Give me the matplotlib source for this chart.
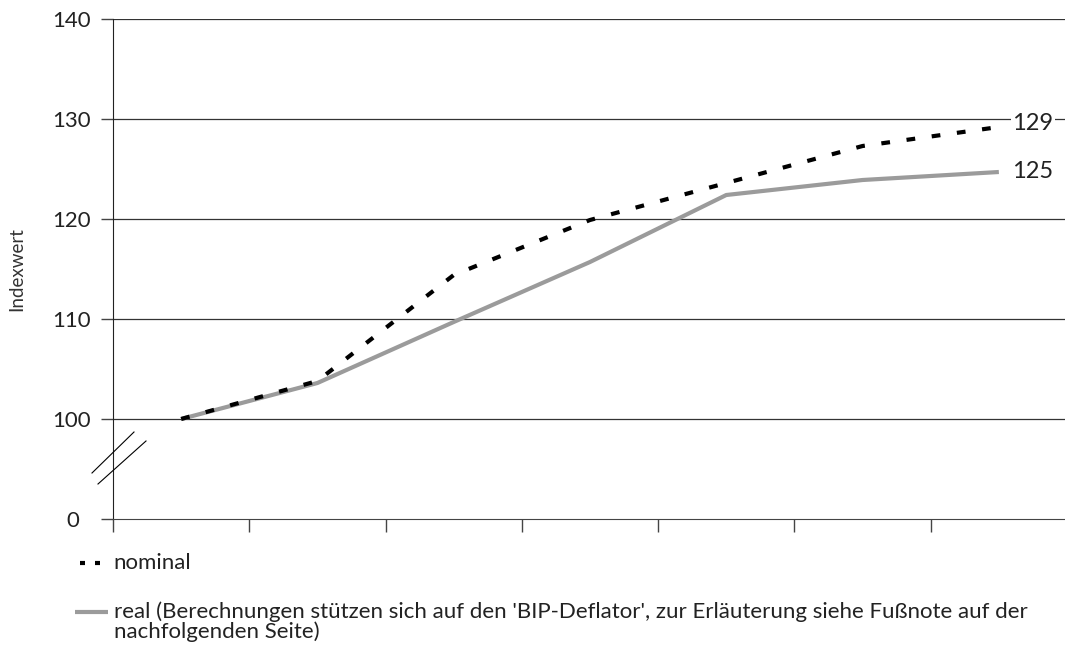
import matplotlib.pyplot as plt
import matplotlib.transforms as mtransforms
from matplotlib.lines import Line2D

plt.rcParams['font.family'] = ['Lato', 'DejaVu Sans']

# index values (first category = 100)
categories = ['1', '2', '3', '4', '5', '6', '7']
nominal = [100, 103.8, 114.4, 119.9, 123.6, 127.3, 129.2]
real = [100, 103.6, 109.7, 115.7, 122.4, 123.9, 124.7]
end_labels = ['129', '125']
y_ticks = [90, 100, 110, 120, 130, 140]
y_ticklabels = ['0', '100', '110', '120', '130', '140']

fig = plt.figure(figsize=(10.65, 6.54), dpi=100)
ax = fig.add_axes([113 / 1065, 135 / 654, 954 / 1065, 500 / 654])

x = list(range(len(categories)))
ax.plot(x, real, color='#9b9b9b', lw=3.0, solid_capstyle='butt', zorder=3)
ax.plot(x, nominal, color='black', lw=3.0, ls=(0, (2.1, 4.0)),
        dash_capstyle='butt', zorder=4)

ax.set_xlim(-0.5, len(categories) - 0.5)
ax.set_ylim(90, 140)
ax.set_yticks(y_ticks)
ax.set_yticklabels(y_ticklabels, fontsize=16, color='#222222')
ax.set_xticks([i - 0.5 for i in range(len(categories) + 1)])
ax.set_xticklabels([])
ax.tick_params(axis='both', length=9, width=1, color='#444444')
ax.tick_params(axis='y', pad=7)

# the "0" of the broken axis sits a little further left
zero_label = ax.yaxis.get_major_ticks()[0].label1
zero_label.set_transform(zero_label.get_transform() +
                         mtransforms.ScaledTranslation(-0.12, 0, fig.dpi_scale_trans))

for v in y_ticks[1:]:
    ax.axhline(v, color='#333333', lw=0.9, zorder=1)

for side in ['top', 'right']:
    ax.spines[side].set_visible(False)
ax.spines['left'].set_color('#222222')
ax.spines['bottom'].set_color('#444444')
ax.spines['left'].set_bounds(90, 140)

ax.set_ylabel('Indexwert', fontsize=13.5, color='#333333')
ax.yaxis.set_label_coords(-0.092, 0.5)

# values at the end of each line
ax.text(x[-1] + 0.1, nominal[-1] + 0.3, end_labels[0], fontsize=17,
        va='center', ha='left', color='#222222',
        bbox=dict(facecolor='white', edgecolor='none', pad=1), zorder=5)
ax.text(x[-1] + 0.1, real[-1], end_labels[1], fontsize=17, va='center',
        ha='left', color='#222222', zorder=5)

# axis break marks
for (x0, y0, x1, y1) in [(92, 473, 134, 432), (98, 484, 146, 441)]:
    fig.add_artist(Line2D([x0 / 1065, x1 / 1065], [1 - y0 / 654, 1 - y1 / 654],
                          color='black', lw=0.8))

# legend below the plot
fig.add_artist(Line2D([80 / 1065, 100 / 1065], [1 - 563 / 654] * 2,
                      color='black', lw=3.0, ls=(0, (1.2, 2.4)),
                      dash_capstyle='butt'))
fig.text(113 / 1065, 1 - 563 / 654, 'nominal', fontsize=16, va='center',
         color='#222222')
fig.add_artist(Line2D([75 / 1065, 108 / 1065], [1 - 612 / 654] * 2,
                      color='#9b9b9b', lw=3.0, solid_capstyle='butt'))
fig.text(114 / 1065, 1 - 601 / 654,
         "real (Berechnungen stützen sich auf den 'BIP-Deflator', zur Erläuterung siehe Fußnote auf der\n"
         "nachfolgenden Seite)",
         fontsize=16, va='top', color='#222222', linespacing=1.0)

fig.savefig('out.png', dpi=100)
